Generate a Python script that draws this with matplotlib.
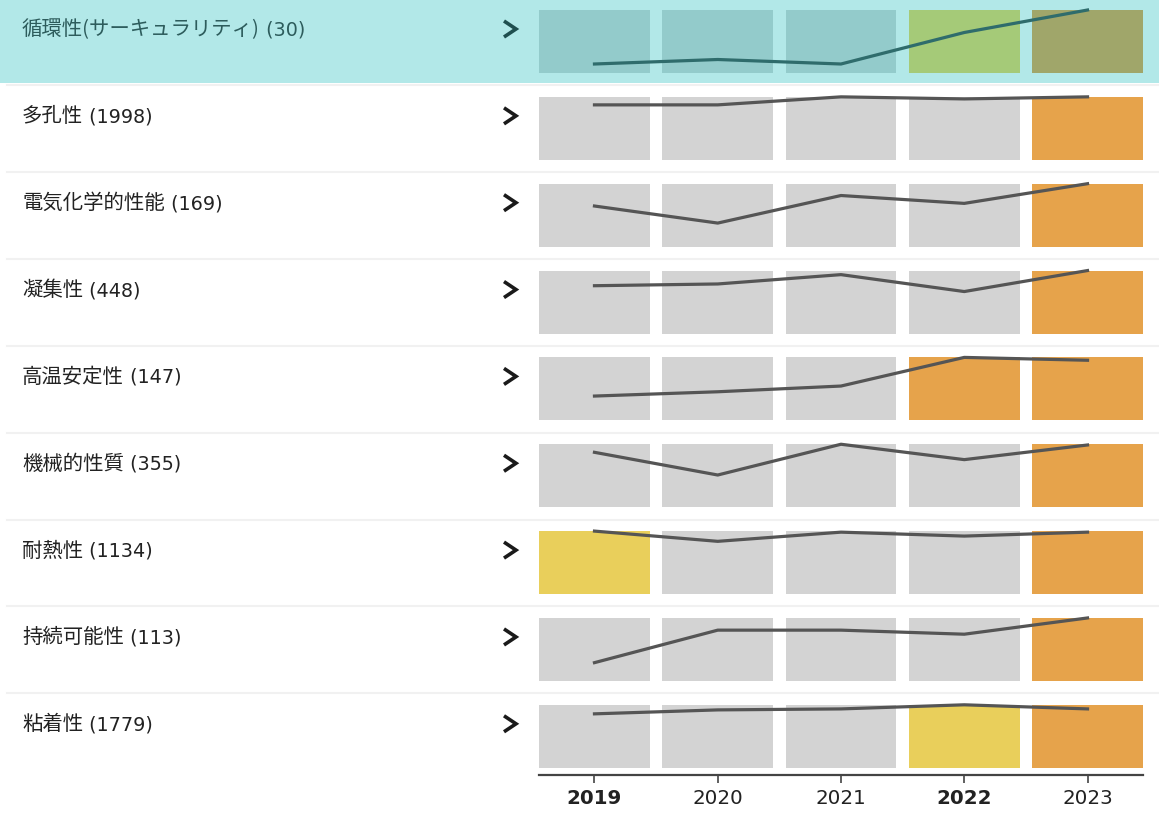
import matplotlib.pyplot as plt
from matplotlib.patches import Rectangle
from matplotlib.lines import Line2D

plt.rcParams['font.family'] = ['DejaVu Sans', 'Noto Sans CJK JP']

# Yearly counts per property (labels show the total)
years = ['2019', '2020', '2021', '2022', '2023']
bold_years = ['2019', '2022']
labels = ['循環性(サーキュラリティ)', '多孔性', '電気化学的性能', '凝集性', '高温安定性',
          '機械的性質', '耐熱性', '持続可能性', '粘着性']
counts = [
    [2, 3, 2, 9, 14],
    [370, 370, 424, 410, 424],
    [31, 18, 39, 33, 48],
    [82, 85, 101, 72, 108],
    [17, 20, 24, 44, 42],
    [75, 44, 86, 65, 85],
    [240, 201, 236, 221, 236],
    [9, 25, 25, 23, 31],
    [328, 352, 358, 383, 358],
]
# cell level: 0 = normal, 1 = rising, 2 = hot
levels = [
    [0, 0, 0, 1, 2],
    [0, 0, 0, 0, 2],
    [0, 0, 0, 0, 2],
    [0, 0, 0, 0, 2],
    [0, 0, 0, 2, 2],
    [0, 0, 0, 0, 2],
    [1, 0, 0, 0, 2],
    [0, 0, 0, 0, 2],
    [0, 0, 0, 1, 2],
]
highlight_row = 0

colors = {0: '#d3d3d3', 1: '#e9cf5b', 2: '#e6a34b'}
colors_hl = {0: '#93cbcb', 1: '#a5ca78', 2: '#a0a66a'}

W, H = 1159, 814
fig = plt.figure(figsize=(W / 100, H / 100), dpi=100)
renderer = fig.canvas.get_renderer()


def frac(x0, y0, w, h):
    return [x0 / W, 1 - (y0 + h) / H, w / W, h / H]


pitch = 86.85
box_top0 = 10
box_h = 63
x_left, x_right = 539, 1143

# highlighted row background
fig.add_artist(Rectangle((0, 1 - 83 / H), 1, 83 / H, transform=fig.transFigure,
                         facecolor='#b2e8e8', edgecolor='none', zorder=-5))

for i, lab in enumerate(labels):
    top = box_top0 + i * pitch
    hl = i == highlight_row
    # separator
    if i > 0:
        y = 1 - (top - 11.5) / H
        fig.add_artist(Line2D([7 / W, 1], [y, y], color='#f1f1f1', lw=1.5, zorder=-4))
    # label: japanese name then the total
    yb = 1 - (top + 25.5) / H
    txtc = '#2d5c5c' if hl else '#222222'
    t1 = fig.text(22 / W, yb, lab, fontsize=14.7, color=txtc, va='baseline',
                  ha='left', family=['Noto Sans CJK JP', 'DejaVu Sans'])
    bb = t1.get_window_extent(renderer=renderer)
    fig.text(bb.x1 / W, yb, f' ({sum(counts[i])})', fontsize=13.8, color=txtc,
             va='baseline', ha='left')
    # chevron
    yc = 1 - (top + 19) / H
    chev = '#1f4f4f' if hl else '#1a1a1a'
    fig.add_artist(Line2D([504 / W, 516 / W, 504 / W],
                          [yc + 8 / H, yc, yc - 8 / H], color=chev, lw=2.6,
                          solid_capstyle='butt', solid_joinstyle='miter'))

    ax = fig.add_axes(frac(x_left, top, x_right - x_left, box_h))
    vals = counts[i]
    vmax = max(vals)
    pal = colors_hl if hl else colors
    ax.bar(range(len(years)), [vmax] * len(years), width=0.9,
           color=[pal[l] for l in levels[i]], zorder=1)
    ax.plot(range(len(years)), vals, color='#2f6c6c' if hl else '#555555',
            lw=2.3, clip_on=False, zorder=3)
    ax.set_xlim(-0.45, len(years) - 0.55)
    ax.set_ylim(0, vmax)
    ax.axis('off')

# year axis
axx = fig.add_axes(frac(x_left, 775, x_right - x_left, 0.01))
axx.set_xlim(-0.45, len(years) - 0.55)
axx.set_ylim(0, 1)
for s in ['top', 'left', 'right']:
    axx.spines[s].set_visible(False)
axx.spines['bottom'].set_color('#444444')
axx.spines['bottom'].set_linewidth(1.6)
axx.set_yticks([])
axx.set_xticks(range(len(years)))
axx.set_xticklabels(years)
axx.tick_params(axis='x', length=6, width=1.2, color='#444444', pad=4,
                labelsize=14.3, labelcolor='#222222')
for t in axx.get_xticklabels():
    if t.get_text() in bold_years:
        t.set_fontweight('bold')
axx.patch.set_visible(False)

fig.savefig('out.png', dpi=100)
